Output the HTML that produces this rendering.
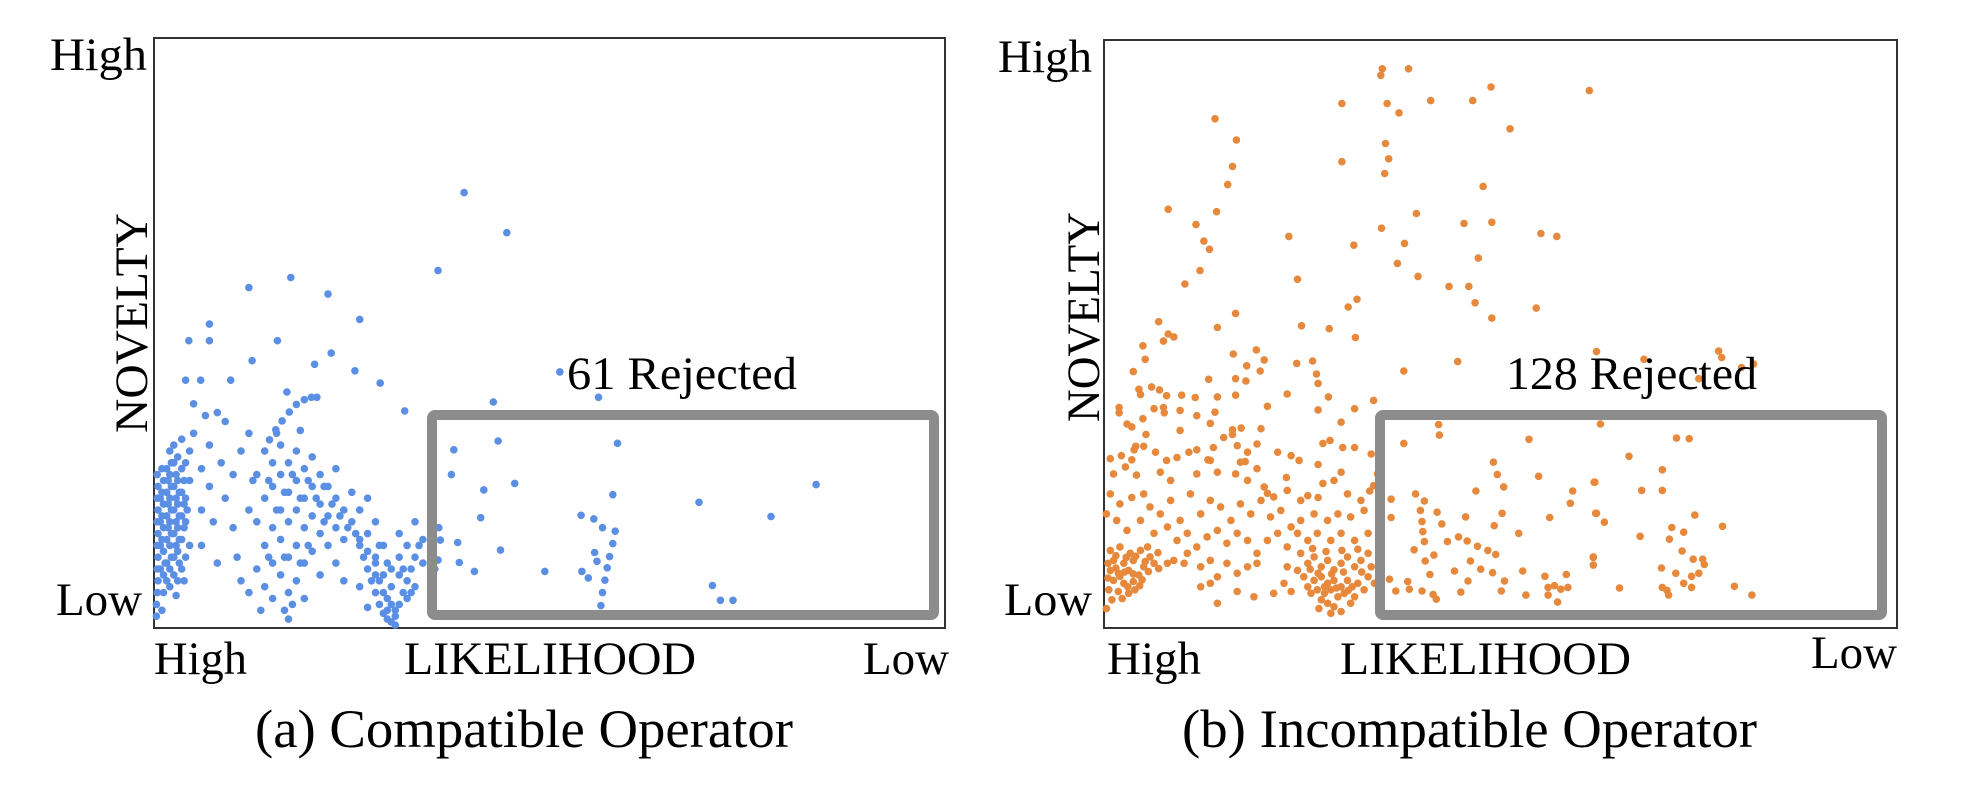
<!DOCTYPE html>
<html>
<head>
<meta charset="utf-8">
<style>
  html,body{margin:0;padding:0;background:#fff;}
  svg{display:block;}
  text{font-family:"Liberation Serif","Times New Roman",serif;fill:#000;}
</style>
</head>
<body>
<svg id="fig" width="1968" height="792" viewBox="0 0 1968 792" xmlns="http://www.w3.org/2000/svg">
  <g id="panelA">
    <rect x="154" y="38" width="791" height="590" fill="none" stroke="#333" stroke-width="2"/>
    <g id="dotsA"></g>
    <rect x="432" y="415" width="502" height="200" rx="3" fill="none" stroke="#8c8c8c" stroke-width="10"/>
    <text x="567" y="389" font-size="47" textLength="230" lengthAdjust="spacingAndGlyphs">61 Rejected</text>
    <text x="50" y="70" font-size="47" textLength="97" lengthAdjust="spacingAndGlyphs">High</text>
    <text x="56" y="615" font-size="47" textLength="86" lengthAdjust="spacingAndGlyphs">Low</text>
    <text transform="translate(147,323) rotate(-90)" text-anchor="middle" font-size="47" textLength="220" lengthAdjust="spacingAndGlyphs">NOVELTY</text>
    <text x="154" y="674" font-size="47" textLength="93" lengthAdjust="spacingAndGlyphs">High</text>
    <text x="404" y="674" font-size="47" textLength="292" lengthAdjust="spacingAndGlyphs">LIKELIHOOD</text>
    <text x="863" y="674" font-size="47" textLength="86" lengthAdjust="spacingAndGlyphs">Low</text>
    <text x="255" y="747" font-size="54" textLength="538" lengthAdjust="spacingAndGlyphs">(a) Compatible Operator</text>
  </g>
  <g id="panelB">
    <rect x="1104" y="40" width="793" height="588" fill="none" stroke="#333" stroke-width="2"/>
    <g id="dotsB"></g>
    <rect x="1380" y="415" width="502" height="200" rx="3" fill="none" stroke="#8c8c8c" stroke-width="10"/>
    <text x="1506" y="389" font-size="47" textLength="251" lengthAdjust="spacingAndGlyphs">128 Rejected</text>
    <text x="998" y="72" font-size="47" textLength="94" lengthAdjust="spacingAndGlyphs">High</text>
    <text x="1004" y="615" font-size="47" textLength="88" lengthAdjust="spacingAndGlyphs">Low</text>
    <text transform="translate(1099,317) rotate(-90)" text-anchor="middle" font-size="47" textLength="210" lengthAdjust="spacingAndGlyphs">NOVELTY</text>
    <text x="1107" y="674" font-size="47" textLength="94" lengthAdjust="spacingAndGlyphs">High</text>
    <text x="1340" y="674" font-size="47" textLength="291" lengthAdjust="spacingAndGlyphs">LIKELIHOOD</text>
    <text x="1811" y="668" font-size="47" textLength="86" lengthAdjust="spacingAndGlyphs">Low</text>
    <text x="1182" y="747" font-size="54" textLength="575" lengthAdjust="spacingAndGlyphs">(b) Incompatible Operator</text>
  </g>
</svg>
<script>
// [likelihood (0=High .. 100=Low), novelty (0=Low .. 100=High)]
const pointsCompatible = [
[39.2,73.8],[44.6,67],[35.9,60.6],[17.3,59.4],[12,57.7],[22,56.6],[26,52.3],[7,51.5],[4.4,48.7],[7,48.7],[15.6,48.7],[12.4,45.3],[22.4,46.6],[20.3,44.7],[4,42],[5.9,42],[9.7,42],[25.4,43.6],[28.6,41.5],[16.8,40],[42.9,38.3],[56.2,39.1],[31.7,36.8],[51.3,43.4],
[43.5,31.7],[37.9,30.2],[58.6,31.3],[37.6,26],[41.7,23.4],[45.6,24.5],[58,22.6],[54,19.1],[55.6,18.5],[68.9,21.3],[83.7,24.3],[78,18.9],[41.3,18.7],[36.2,14.9],[38.4,14.5],[43.8,13.2],[49.4,9.6],[38.6,11.1],[40.5,9.6],[35.9,11.5],[70.6,7.2],[71.6,4.7],[73.2,4.7],[58.3,16.4],[58,14.3],[57.6,12.1],[57.3,10.2],[57,8.1],[56.7,6],[56.5,3.8],[55.7,12.8],[56,11.3],[54.1,9.6],[54.9,8.5],[56.7,17],
[0.5,8],[0.5,12],[0.5,16],[0.5,20],[0.5,24],[0.8,10],[0.8,14],[0.8,18],[0.8,22],[1.2,6],[1.2,9],[1.2,13],[1.2,17],[1.2,21],[1.2,25],[1.6,8],[1.6,11],[1.6,15],[1.6,19],[1.6,23],[1.6,27],[2,7],[2,10],[2,14],[2,18],[2,22],[2,26],[2,30],[2.5,9],[2.5,12],[2.5,16],[2.5,20],[2.5,24],[2.5,28],[2.5,31],[3,8],[3,13],[3,17],[3,21],[3,25],[3,29],[3.5,10],[3.5,15],[3.5,19],[3.5,23],[3.5,27],[3.5,32],[4,12],[4,18],[4,22],[4,28],[4.5,30],[4.5,25],[4.5,14],[0.3,4],[0.3,2],[1,3],[2.8,5.5],[3.8,8],
[0.4,6],[0.4,10],[0.4,14],[0.4,18],[0.4,22],[0.4,26],[1,15],[1,19],[1,23],[1,27],[1.4,11],[1.8,17],[1.8,21],[1.8,25],[2.2,12],[2.2,16],[2.2,20],[2.2,24],[2.2,28],[2.8,14],[2.8,18],[2.8,22],[2.8,26],[3.2,11],[3.2,15],[3.2,19],[3.2,23],[3.8,17],[3.8,21],[3.8,25],[4.2,20],
[5,33],[6,27],[6,20],[6,14],[7,24],[7,31],[7.5,18],[8,11],[8.5,28],[9,22],[9,35],[10,17],[10,26],[10.5,12],[11,30],[11,8],[12,20],[12,33],[6.5,36],[5,38],[8,36.5],[12.5,25],
[13,10],[13,18],[13,26],[14,7],[14,14],[14,22],[14,30],[15,5],[15,11],[15,17],[15,24],[15,28],[16,9],[16,15],[16,20],[16,26],[16,31],[17,6],[17,12],[17,18],[17,23],[17,28],[18,8],[18,14],[18,20],[18,25],[18,30],[19,11],[19,17],[19,22],[19,27],[20,13],[20,19],[20,24],[20,29],[21,16],[21,21],[21,26],[22,14],[22,19],[22,24],[23,17],[23,22],[23,27],[24,15],[24,20],[25,18],[25,23],[26,14],[26,20],[27,16],[27,22],[28,12],[28,18],[29,14],[16.5,3],[17,1.5],[17.5,4],[13.5,3],[12,6],[21,9],[23,11],[19,5],[24,8],[15.5,33],[18.5,33.5],
[14.5,12],[15.5,20],[16.5,23],[17.5,26],[18.5,22],[19.5,25],[20.5,22],[21.5,24],[22.5,21],[23.5,19],[24.5,17],[25.5,16],[16.5,12],[18.5,11],[14.5,25],[19.5,14],[21.5,18],
[14.6,31.9],[15.4,33.6],[16.2,35.1],[17.1,36.6],[18,37.9],[19,38.7],[19.9,39.1],[20.6,39.1],
[26,15],[26.5,12],[27,10],[27.5,8],[28,6],[28.5,4],[29,2.5],[29.5,1.5],[30,1],[30.5,2],[31,4],[31.5,6],[32,8],[32.5,10],[33,12],[33.5,14],[27,13],[28,11],[29,9],[29,6],[30,4],[30,7],[31,9],[31,12],[32,14],[28.5,14],[30,10],[29.5,3],[30.5,0.5],[32,5],[33,7],[34,11],[34,15],[31,16],[27,3.5],[26,7],[35,13],[35.5,10],[36,17],[33,18],[35,6],
[28.5,8],[29.5,5],[30.5,3],[31.5,10],[29.5,11],[28,9],[32.5,6]
];
const pointsIncompatible = [
[35.1,95.1],[38.4,95.1],[34.9,94],[30,89.2],[35.7,89.2],[37.2,87.6],[41.2,89.7],[46.5,89.7],[48.8,92],[14,86.6],[16.7,83],[16.2,78.5],[15.6,75.4],[30,79.3],[35.5,82.4],[35.9,79.8],[35.4,77.3],[47.8,75.1],[8.1,71.2],[14.2,70.8],[11.6,68.6],[12.6,65.8],[13.3,64.4],[12.1,60.8],[10.2,58.5],[23.3,66.6],[24.4,59.3],[24.9,51.4],[31.5,65.1],[31.9,55.9],[30.8,54.6],[35,68],[39.4,70.5],[37.9,65.4],[37,62],[39.6,59.8],[45.4,68.8],[48.9,69],[47.2,62.9],[43.5,58.1],[46,58.1],[46.8,55.3],[48.9,52.7],[44.6,45.3],[37.8,43.7],[31.6,37.3],[28.3,39.3],[26.8,43.2],[26.3,45.4],[24.3,45],[19.2,47.3],[20.2,45.6],[19.7,43.7],[18,44.6],[16.6,42.4],[14.3,39.3],[16.2,33.7],[8.1,50],[8.8,49.5],[7,40.5],[7.6,36.6],[4.9,35.6],[5.3,32.9],[3.8,30.3],[13.1,28.6],[17.8,28.3],[23,25.6],[27,27.8],[27,22.2],[34,24.2],[20.6,22.9],
[61.2,91.4],[51.2,84.9],[55.1,67.1],[57.1,66.6],[54.5,54.4],
[62.1,47],[68.1,45.7],[77.5,47.1],[77.9,46],[80.4,44.3],[81.9,44.9],[75,42.4],[62.6,34.7],[72.2,32.3],[73.8,32.2],[66.2,29.2],[70.4,26.9],[61.8,24.8],[67.8,23.4],[70.4,23.4],[62.1,19.5],[63.1,18],[74.5,19.2],[78,17.3],[71.6,17.1],[73.1,16.3],[67.6,15.6],[71.3,15.1],[72.9,13.1],[61.7,12],[61.7,10.7],[74.3,11.7],[75.5,11.7],[75.7,10.8],[70.3,10.2],[72.1,9.3],[74.1,8.8],[75,9.3],[73.1,7.6],[74.1,6.9],[70.4,6.9],[71,6.4],[71.2,5.6],[65,6.8],[79.5,7.1],[81.7,5.6],
[37.8,31.4],[42.2,34.6],[42.3,32.8],[53.6,32.1],[49.1,28.2],[49.6,26.1],[50.4,24],[46.9,23.3],[54.8,25.8],[36.2,21.9],[36.2,18.8],[39.3,22.8],[40.4,21.6],[39.9,20],[42,19.7],[45.6,18.9],[50.2,19.5],[49.2,17.4],[56.2,18.8],[52.3,16.1],[40.1,18.1],[40.2,16.4],[40.4,14.7],[42.6,17.7],[43.3,14.7],[44.7,15.5],[39.1,13.3],[41.6,12.4],[45.8,14.8],[47.1,13.9],[48.4,13.2],[49.4,12.5],[46.2,11.4],[40.5,11.4],[44.2,9.7],[47.5,10],[49,9.4],[52.8,9.7],[41.1,9.1],[45.9,8],[50.5,8],[55.6,8.8],[58.3,9.1],[36,8.3],[38.3,7.9],[40.1,6.3],[41.5,5.7],[41.9,4.9],[45,6.1],[50.1,6.3],[53.2,5.6],[56,6.9],[56.8,7.2],[57.6,6.6],[58.5,6.9],[57.2,4.4],[56,5.6],[36.8,6.3],[38.5,6.6],[61.9,24.8],[59.1,23.3],[58.8,21.2],[62,19.5],[61.7,12.1],
[6.9,52.1],[7.5,48.8],[4.9,48],[5.2,45.7],[3.7,43.6],[4.4,40.6],[6,41],[4.6,39.7],[1.9,37.5],[1.9,36.6],[6.3,37.3],[7.5,37.5],[7.9,39.5],[9.8,39.6],[11.5,39.2],[13.2,42.3],[14.3,51.1],[16.3,46.6],[16.6,53.5],[17.9,42],[16.6,39.6],[20.6,37.7],[23.1,39.8],[27,41.6],[27,37.1],[28.4,50.9],[31.7,49.4],[34,38.7],[9.6,37],[11.7,36.1],[13.4,34.8],[14,36.7],[2.9,34.7],[3.5,34.2],[9.6,33.6],[15.1,32.4],[16.2,32.9],[17.3,34],[19.8,33.9],[29.9,35],[27.6,31.4],[28.5,31.9],[30.1,30.7],[31.6,30.7],[33.7,29.6],[5,30.9],[4,30.9],[6.5,29.9],[9.2,29],[10.7,29.9],[11.7,30.3],[13.8,30.7],[16.8,31],[18.1,29.9],[19.3,31.3],[21.9,29.9],[23.6,29.3],[24.6,28.5],[0.8,28.8],[2.2,29.3],[3.5,28.6],[7.9,28.5],[13.4,28.5],[17.2,28.2],
[1.2,26.2],[2.7,27.4],[4.1,26],[7.1,26.5],[8.4,25.1],[11.7,26.2],[14.3,26.5],[16.6,26.2],[18.1,25.1],[19.3,27.1],[20.2,24],[21.4,22.3],[23.1,23.4],[24.8,21.7],[25.7,22.5],[27.6,24.6],[29,25.1],[29.9,26.5],[30.7,22.8],[32.4,21.7],[33.5,23.3],[34.5,26.2],
[0.8,22.8],[2,21.1],[3.5,22.2],[5,22.8],[5.8,20.6],[7.1,19.4],[8.4,21.7],[9.6,18.3],[10.9,22.8],[12.2,19.4],[13.4,21.7],[14.7,20.6],[16,18.3],[17.2,21.1],[18.5,19.4],[19.8,21.7],[21,18.9],[22.3,20],[23.6,17.2],[24.8,18.3],[26.5,19.4],[28.2,18.3],[29.5,19.4],[31.1,18.9],[32.8,20],[0.3,19.4],[1.6,18.3],[2.9,16.6],[4.6,18.3],[6.3,16.1],[8,17.2],[9.2,14.9],[10.5,16.1],[11.7,13.8],[13,15.5],[14.3,16.6],[15.5,14.4],[16.8,16.1],[18.1,14.9],[19.3,12.7],[20.6,14.9],[21.9,16.1],[23.1,13.8],[24.4,16.1],[25.7,14.9],[26.9,16.1],[28.6,14.9],[29.9,16.1],[31.6,14.9],[33.3,16.1],
[0.8,13.2],[2,13.8],[3.3,12.7],[4.6,13.2],[5.8,12.1],[1.2,11.5],[2.5,11],[3.7,11.5],[5,10.4],[6.3,11],[0.8,9.8],[1.8,9.3],[3.1,9.8],[4.4,9],[5.6,9.6],[1.2,8.1],[2.5,7.6],[3.7,7.9],[0.6,6.5],[1.8,6.2],[3.1,5.9],[3.9,6.5],[1,4.8],[0.3,3.3],[8,11],[6.9,10.1],
[1.5,12.3],[2.8,12],[4,12.2],[5.2,11.3],[0.5,11],[1.5,10.2],[2.6,9.5],[3.7,9.2],[4.8,8.2],[0.5,8.5],[2,8.8],[3,7],[2.3,5],[4.5,7.2],[5.5,13.8],[6.8,12.8],
[10.5,12.7],[12.2,10.4],[13.4,11.5],[14.3,8.7],[15.5,11],[16.8,9.3],[18.1,10.4],[19.3,11],[12.2,7],[13.4,7.6],[14.3,4.2],[16.8,6.2],[18.9,5.3],[21.4,5.9],[22.7,7.6],[23.6,6.2],[10.1,11],[8.8,11.5],
[24.8,12.7],[25.7,11],[26.5,12.1],[27.4,10.4],[28.2,11.5],[29,9.9],[29.9,11],[30.7,12.1],[31.6,10.4],[32.4,11.5],[33.3,12.7],[25.2,8.7],[26.5,8.1],[27.4,8.7],[28.2,7.6],[29,8.1],[29.9,7],[30.7,8.1],[32,7.6],[33.3,8.7],[26.9,6.5],[27.8,5.9],[28.6,6.5],[29.5,5.3],[30.3,5.9],[31.6,5.3],[32.8,6.5],[28.2,4.2],[29,3.6],[29.9,2.8],[27.1,3.3],[28.6,2.5],[26.1,5.9],[31.1,4.2],[33.7,10.4],[34.1,7.6],[24.4,9.8],[23.1,10.4],[25.7,7],[27.4,4.8],
[26,10],[27,9.3],[28.7,9.2],[30.2,9.5],[31.3,7],[32.5,9.5],[26.3,13.5],[28,13],[30,13.2],[32,13.4],[27.8,7],[29.3,6.8],[30.8,6.4]
];

const NS = 'http://www.w3.org/2000/svg';
function xScaleA(v){ return 154 + v / 100 * 791; }
function yScaleA(v){ return 628 - v / 100 * 590; }
function xScaleB(v){ return 1104 + v / 100 * 793; }
function yScaleB(v){ return 628 - v / 100 * 588; }

function drawPoints(groupId, pts, xs, ys, color, name){
  const g = document.getElementById(groupId);
  pts.forEach(function(p){
    const c = document.createElementNS(NS, 'circle');
    c.setAttribute('cx', xs(p[0]).toFixed(1));
    c.setAttribute('cy', ys(p[1]).toFixed(1));
    c.setAttribute('r', '3.8');
    c.setAttribute('fill', color);
    
    
    g.appendChild(c);
  });
}
drawPoints('dotsA', pointsCompatible, xScaleA, yScaleA, '#5b8fe3', 'point-compatible');
drawPoints('dotsB', pointsIncompatible, xScaleB, yScaleB, '#e6893c', 'point-incompatible');
</script>
</body>
</html>
